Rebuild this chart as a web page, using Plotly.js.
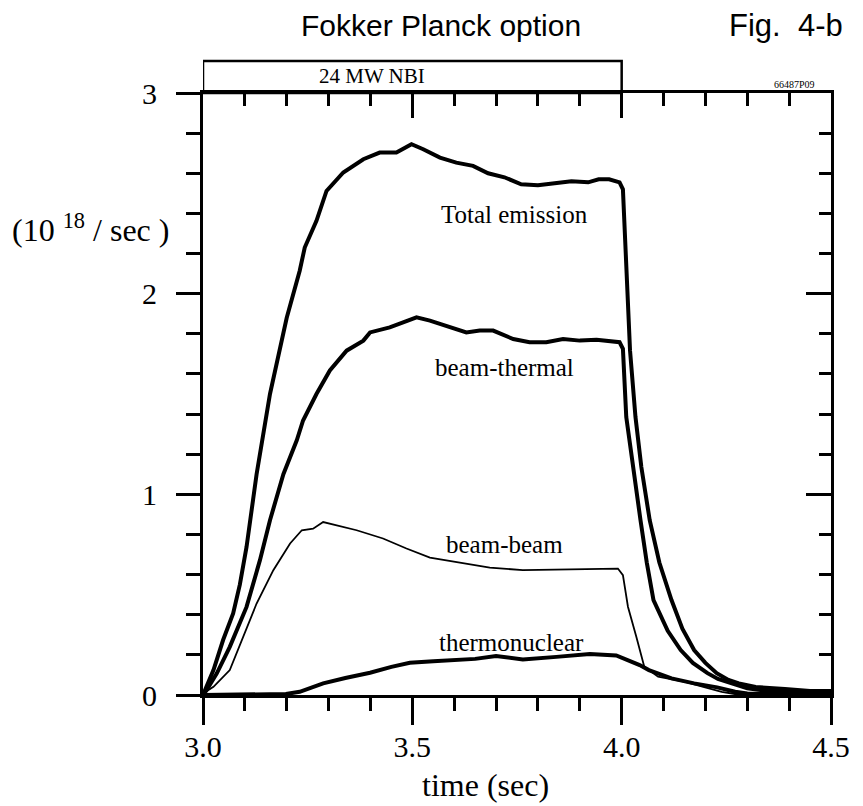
<!DOCTYPE html>
<html>
<head>
<meta charset="utf-8">
<script src="https://cdn.plot.ly/plotly-3.0.1.min.js"></script>
<style>
  html, body { margin: 0; padding: 0; background: #ffffff; }
  #chart { width: 863px; height: 806px; }
  /* tick numbers in the same Times-style face as the rest of the figure */
  #chart .xtick text, #chart .ytick text { font-family: "Liberation Serif", "Times New Roman", serif !important; }
</style>
</head>
<body>
<div id="chart"></div>
<script>
// Neutron emission rate components (10^18 / sec) versus time (sec)
const totalTime = [3.000, 3.010, 3.025, 3.048, 3.072, 3.088, 3.104, 3.128, 3.160, 3.200, 3.231, 3.243, 3.271, 3.295, 3.335, 3.383, 3.422, 3.462, 3.498, 3.526, 3.566, 3.605, 3.645, 3.681, 3.720, 3.760, 3.800, 3.840, 3.880, 3.920, 3.945, 3.970, 3.995, 4.003, 4.011, 4.020, 4.033, 4.047, 4.067, 4.090, 4.119, 4.145, 4.173, 4.200, 4.227, 4.255, 4.280, 4.320, 4.390, 4.450, 4.500];
const totalRate = [0.000, 0.050, 0.124, 0.274, 0.406, 0.550, 0.738, 1.100, 1.500, 1.880, 2.114, 2.230, 2.363, 2.512, 2.604, 2.670, 2.703, 2.703, 2.745, 2.720, 2.678, 2.653, 2.637, 2.600, 2.580, 2.545, 2.540, 2.550, 2.560, 2.555, 2.570, 2.570, 2.555, 2.520, 2.130, 1.716, 1.385, 1.136, 0.871, 0.660, 0.473, 0.330, 0.224, 0.160, 0.109, 0.075, 0.058, 0.040, 0.030, 0.020, 0.020];

const beamThermalTime = [3.000, 3.009, 3.033, 3.064, 3.104, 3.136, 3.160, 3.192, 3.224, 3.239, 3.271, 3.303, 3.343, 3.383, 3.399, 3.446, 3.478, 3.510, 3.542, 3.589, 3.629, 3.661, 3.693, 3.741, 3.780, 3.820, 3.860, 3.900, 3.940, 3.995, 4.003, 4.011, 4.027, 4.045, 4.060, 4.076, 4.110, 4.141, 4.170, 4.205, 4.230, 4.260, 4.300, 4.350, 4.420, 4.500];
const beamThermalRate = [0.000, 0.025, 0.108, 0.240, 0.439, 0.672, 0.871, 1.100, 1.269, 1.368, 1.500, 1.617, 1.716, 1.766, 1.807, 1.832, 1.857, 1.882, 1.866, 1.832, 1.807, 1.816, 1.816, 1.774, 1.758, 1.758, 1.774, 1.766, 1.770, 1.758, 1.725, 1.385, 1.136, 0.871, 0.660, 0.473, 0.320, 0.224, 0.160, 0.109, 0.080, 0.058, 0.033, 0.020, 0.015, 0.015];

const beamBeamTime = [3.000, 3.025, 3.064, 3.096, 3.128, 3.168, 3.208, 3.236, 3.263, 3.287, 3.319, 3.367, 3.430, 3.486, 3.542, 3.605, 3.685, 3.764, 3.844, 3.924, 3.991, 4.003, 4.015, 4.035, 4.054, 4.087, 4.152, 4.195, 4.239, 4.270, 4.350, 4.500];
const beamBeamRate = [0.008, 0.041, 0.124, 0.290, 0.456, 0.622, 0.755, 0.821, 0.829, 0.862, 0.846, 0.821, 0.780, 0.730, 0.685, 0.663, 0.635, 0.622, 0.625, 0.630, 0.630, 0.597, 0.440, 0.290, 0.141, 0.091, 0.066, 0.041, 0.016, 0.005, 0.005, 0.005];

const thermoTime = [3.000, 3.100, 3.198, 3.231, 3.287, 3.340, 3.399, 3.450, 3.494, 3.550, 3.605, 3.650, 3.700, 3.764, 3.844, 3.924, 3.987, 4.022, 4.043, 4.065, 4.119, 4.173, 4.228, 4.271, 4.300, 4.400, 4.500];
const thermoRate = [0.000, 0.000, 0.005, 0.016, 0.058, 0.085, 0.111, 0.140, 0.161, 0.168, 0.174, 0.180, 0.194, 0.177, 0.190, 0.204, 0.197, 0.166, 0.149, 0.124, 0.083, 0.058, 0.038, 0.016, 0.008, 0.005, 0.005];

// Curve labels and their anchor points (time, rate)
const curveLabels = ["Total emission", "beam-thermal", "beam-beam", "thermonuclear"];
const labelTime = [3.745, 3.721, 3.721, 3.737];
const labelRate = [2.393, 1.632, 0.751, 0.264];

// Heating window
const nbiStart = 3.0;
const nbiEnd = 4.0;
const nbiLabel = "24 MW NBI";

const serif = "\"Liberation Serif\", \"Times New Roman\", serif";
const sans = "\"Liberation Sans\", Arial, sans-serif";

function curve(x, y, w) {
  return {
    x: x, y: y, type: "scatter", mode: "lines",
    line: { color: "#000000", width: w, shape: "linear" },
    hoverinfo: "skip", showlegend: false
  };
}

const traces = [
  curve(totalTime, totalRate, 4),
  curve(beamThermalTime, beamThermalRate, 4),
  curve(beamBeamTime, beamBeamRate, 1.8),
  curve(thermoTime, thermoRate, 4),
  // empty trace that carries the top / right frame axes
  { x: [], y: [], xaxis: "x2", yaxis: "y2", type: "scatter", mode: "lines", hoverinfo: "skip", showlegend: false }
];

const annotations = curveLabels.map((t, i) => ({
  x: labelTime[i], y: labelRate[i], xref: "x", yref: "y",
  text: t, showarrow: false, xanchor: "center", yanchor: "middle",
  font: { family: serif, size: 25, color: "#000000" }
}));

annotations.push(
  { x: 0.379, y: 1.112, xref: "paper", yref: "paper", text: "Fokker Planck option", showarrow: false,
    xanchor: "center", yanchor: "middle", font: { family: sans, size: 30, color: "#000000" } },
  { x: 1.022, y: 1.112, xref: "paper", yref: "paper", text: "Fig.&nbsp;&nbsp;4-b", showarrow: false,
    xanchor: "right", yanchor: "middle", font: { family: sans, size: 31, color: "#000000" } },
  { x: 3.403, y: 1.028, xref: "x", yref: "paper", text: nbiLabel, showarrow: false,
    xanchor: "center", yanchor: "middle", font: { family: serif, size: 21, color: "#000000" } },
  { x: 0.942, y: 1.001, xref: "paper", yref: "paper", text: "66487P09", showarrow: false,
    xanchor: "center", yanchor: "bottom", font: { family: serif, size: 10, color: "#000000" } },
  { x: -0.051, y: 0.775, xref: "paper", yref: "paper", text: "(10 <sup>18</sup> / sec )", showarrow: false,
    xanchor: "right", yanchor: "middle", font: { family: serif, size: 32, color: "#000000" } },
  { x: 0.45, y: -0.15, xref: "paper", yref: "paper", text: "time (sec)", showarrow: false,
    xanchor: "center", yanchor: "middle", font: { family: serif, size: 32, color: "#000000" } }
);

const axisFont = { family: serif, size: 30, color: "#000000" };

const layout = {
  width: 863, height: 806,
  margin: { l: 203, r: 32, t: 93, b: 111, pad: 0 },
  paper_bgcolor: "#ffffff", plot_bgcolor: "#ffffff",
  font: { family: serif, size: 30, color: "#000000" },
  showlegend: false,
  xaxis: {
    range: [3, 4.5], tick0: 3, dtick: 0.5, tickformat: ".1f",
    ticks: "outside", ticklen: 27, tickwidth: 3, tickcolor: "#000000",
    showline: true, linewidth: 3, linecolor: "#000000",
    showgrid: false, zeroline: false, ticklabelstandoff: -4,
    minor: { tick0: 3, dtick: 0.1, ticks: "outside", ticklen: 13, tickwidth: 3, tickcolor: "#000000", showgrid: false },
    tickfont: axisFont
  },
  yaxis: {
    range: [0, 3], tick0: 0, dtick: 1,
    ticks: "outside", ticklen: 24, tickwidth: 3, tickcolor: "#000000",
    showline: true, linewidth: 3, linecolor: "#000000",
    showgrid: false, zeroline: false, ticklabelstandoff: 13,
    minor: { tick0: 0, dtick: 0.2, ticks: "outside", ticklen: 14, tickwidth: 3, tickcolor: "#000000", showgrid: false },
    tickfont: axisFont
  },
  xaxis2: {
    overlaying: "x", side: "top", anchor: "y2",
    range: [3, 4.5], tick0: 3, dtick: 0.5,
    ticks: "inside", ticklen: 25, tickwidth: 3, tickcolor: "#000000",
    showline: true, linewidth: 3, linecolor: "#000000",
    showgrid: false, zeroline: false, showticklabels: false,
    minor: { tick0: 3, dtick: 0.1, ticks: "inside", ticklen: 13, tickwidth: 3, tickcolor: "#000000", showgrid: false }
  },
  yaxis2: {
    overlaying: "y", side: "right", anchor: "x2",
    range: [0, 3], tick0: 0, dtick: 1,
    ticks: "inside", ticklen: 25, tickwidth: 3, tickcolor: "#000000",
    showline: true, linewidth: 3, linecolor: "#000000",
    showgrid: false, zeroline: false, showticklabels: false,
    minor: { tick0: 0, dtick: 0.2, ticks: "inside", ticklen: 12, tickwidth: 3, tickcolor: "#000000", showgrid: false }
  },
  shapes: [
    { type: "rect", xref: "x", yref: "paper", x0: nbiStart, x1: nbiEnd, y0: 1.0, y1: 1.053,
      line: { color: "#000000", width: 2.5 }, fillcolor: "rgba(0,0,0,0)" }
  ],
  annotations: annotations
};

Plotly.newPlot("chart", traces, layout, { displayModeBar: false, staticPlot: true });
</script>
</body>
</html>
